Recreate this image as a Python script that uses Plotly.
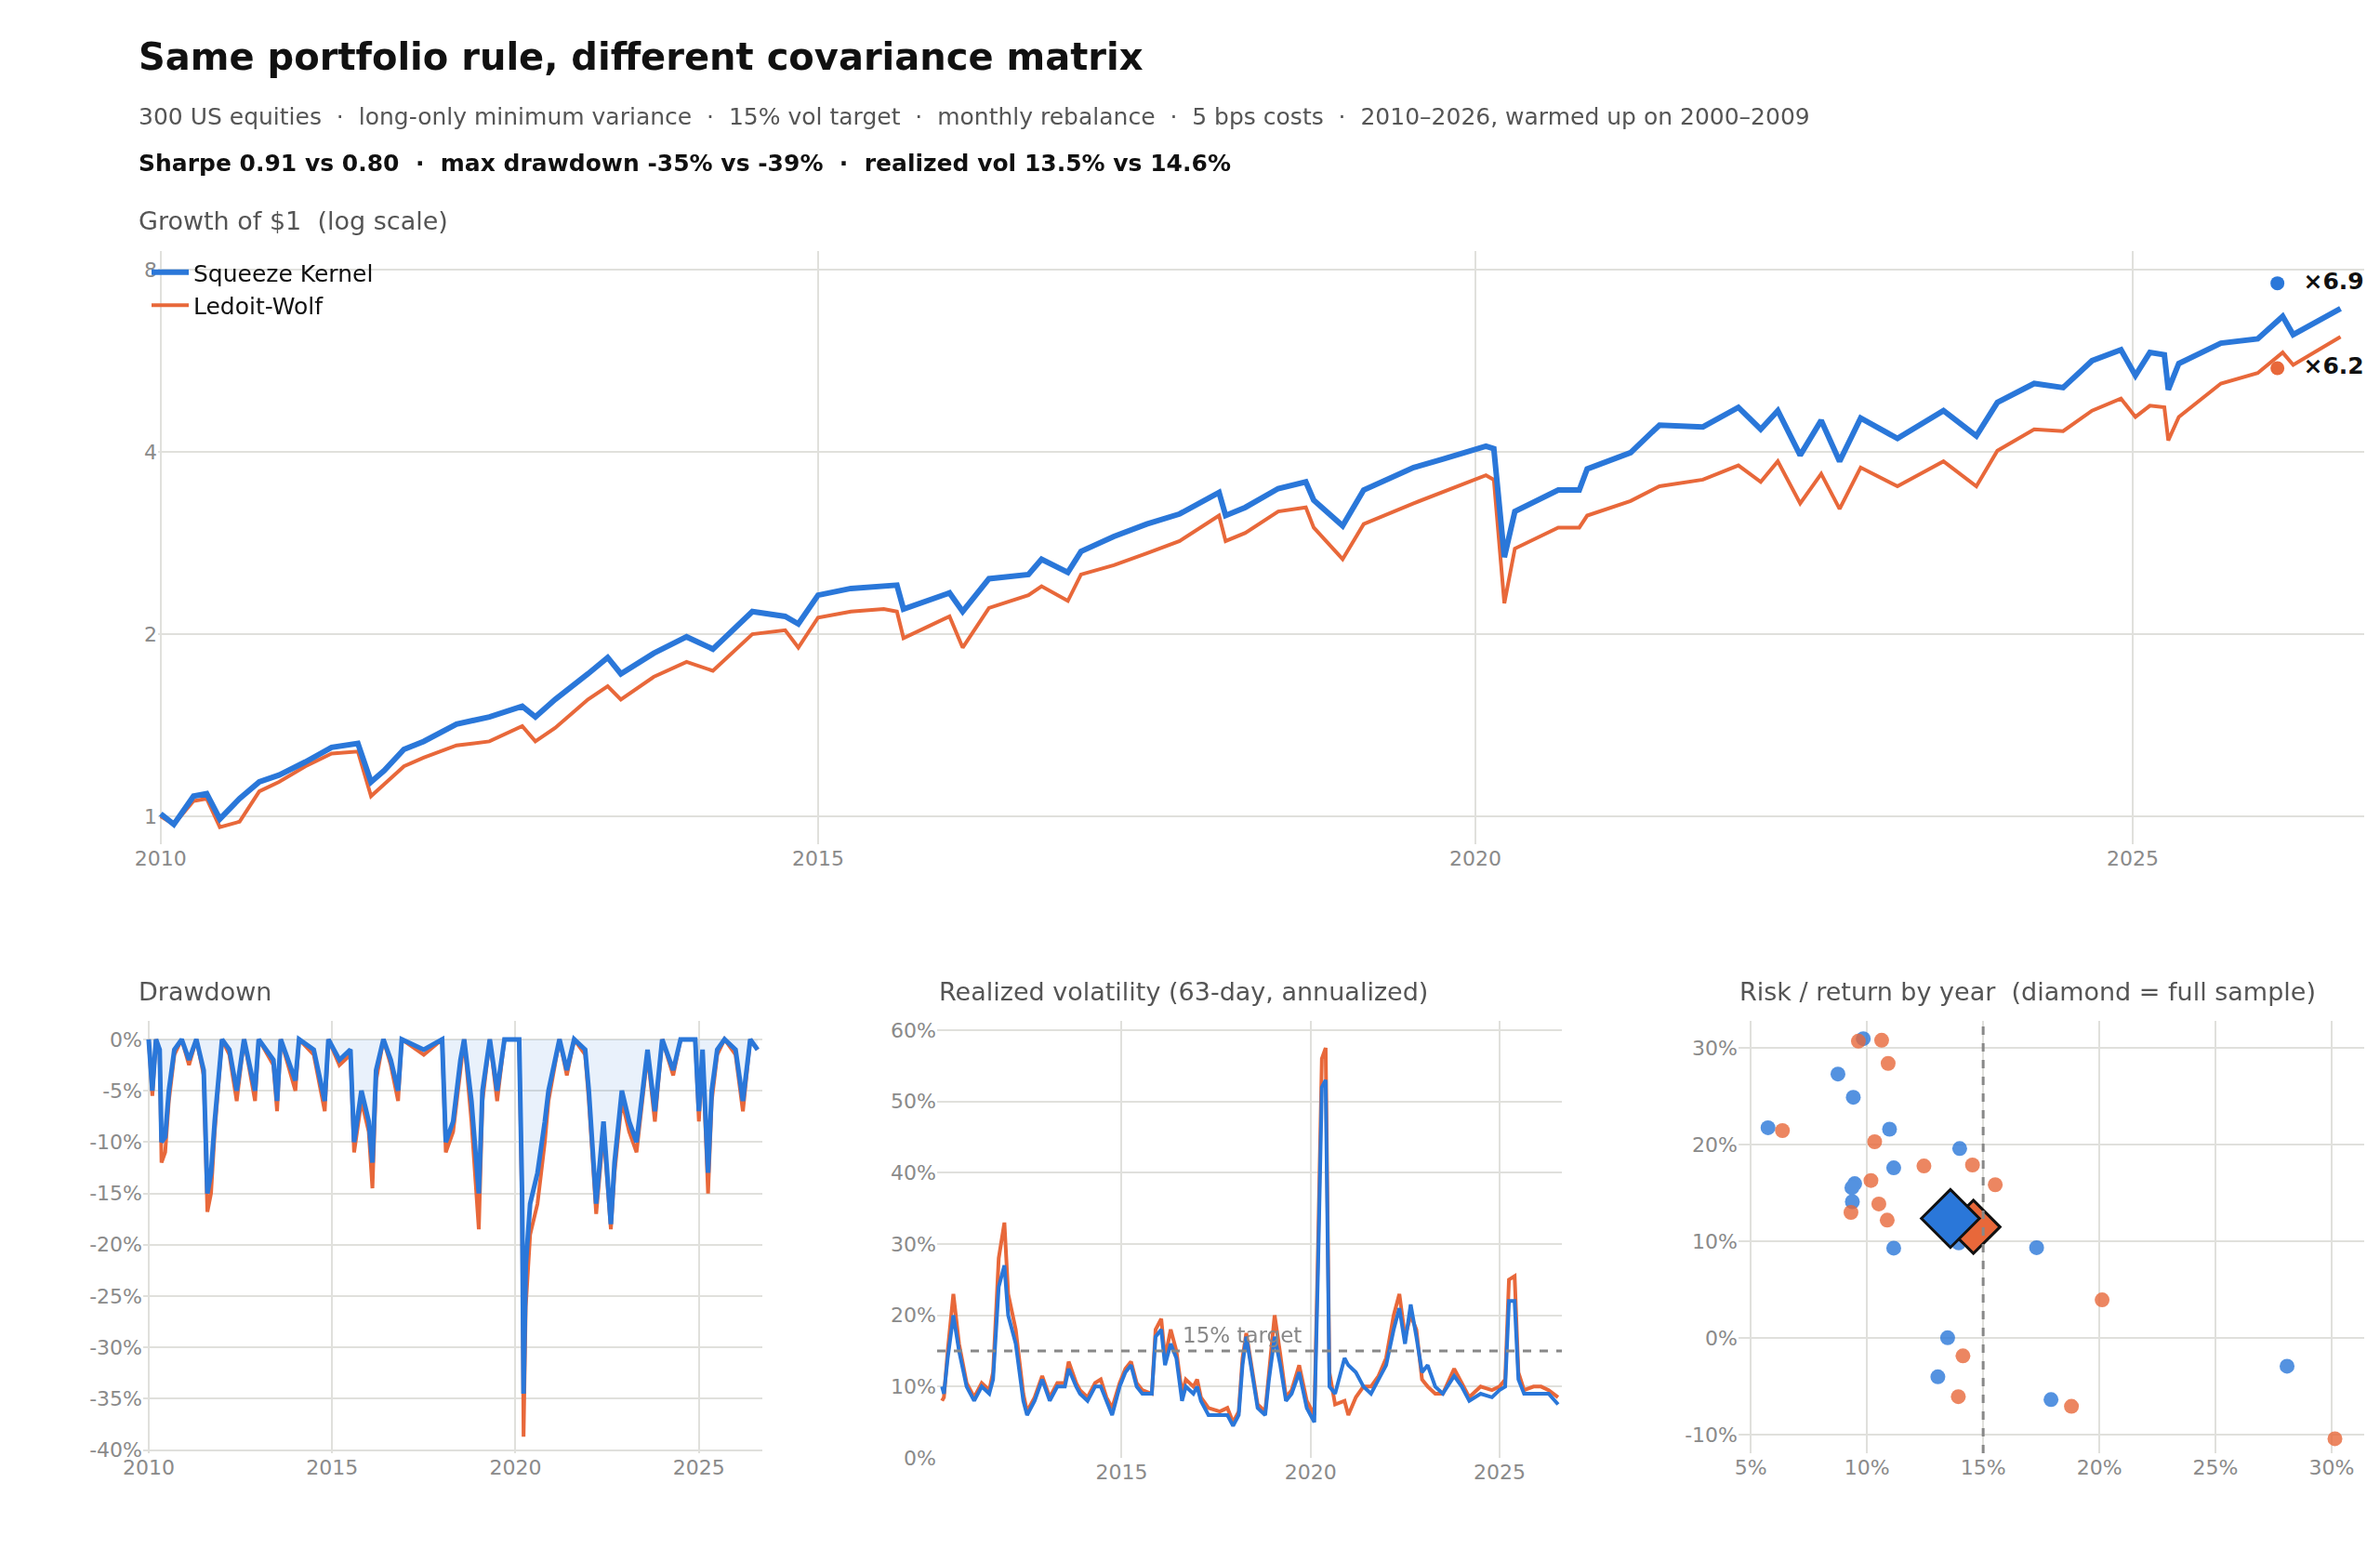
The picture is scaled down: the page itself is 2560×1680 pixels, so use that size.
import plotly.graph_objects as go

BLUE = "#2a77d9"
ORANGE = "#e8683a"
GRID = "#e0e0dc"
TICK = "#8a8a8a"
FONT = "DejaVu Sans"

# ---- Growth of $1 ----
G_T = [2010.0,2010.1,2010.25,2010.35,2010.45,2010.6,2010.75,2010.9,2011.1,2011.3,
       2011.5,2011.6,2011.7,2011.85,2012.0,2012.25,2012.5,2012.75,2012.85,2013.0,
       2013.25,2013.4,2013.5,2013.75,2014.0,2014.2,2014.5,2014.75,2014.85,2015.0,
       2015.25,2015.5,2015.6,2015.65,2016.0,2016.1,2016.3,2016.6,2016.7,2016.9,
       2017.0,2017.25,2017.5,2017.75,2018.05,2018.1,2018.25,2018.5,2018.71,2018.77,
       2018.99,2019.15,2019.53,2019.75,2020.08,2020.14,2020.22,2020.3,2020.63,2020.79,
       2020.85,2021.18,2021.4,2021.73,2022.0,2022.17,2022.3,2022.47,2022.63,2022.77,
       2022.93,2023.21,2023.56,2023.81,2023.97,2024.25,2024.47,2024.69,2024.91,2025.02,
       2025.13,2025.24,2025.27,2025.35,2025.67,2025.95,2026.14,2026.22,2026.58]
G_SK = [1.01,0.97,1.08,1.09,0.99,1.07,1.14,1.17,1.23,1.30,
        1.32,1.14,1.19,1.29,1.33,1.42,1.46,1.52,1.46,1.56,
        1.72,1.83,1.72,1.86,1.98,1.89,2.18,2.14,2.08,2.32,
        2.38,2.40,2.41,2.20,2.34,2.18,2.47,2.51,2.66,2.53,
        2.74,2.90,3.04,3.16,3.43,3.14,3.24,3.48,3.57,3.33,
        3.02,3.46,3.77,3.89,4.09,4.05,2.68,3.19,3.46,3.46,
        3.75,3.99,4.43,4.40,4.74,4.36,4.68,3.95,4.51,3.86,
        4.55,4.21,4.68,4.25,4.83,5.19,5.11,5.66,5.90,5.35,
        5.84,5.79,5.07,5.60,6.05,6.15,6.70,6.25,6.90]
G_LW = [1.0,0.97,1.06,1.07,0.96,0.98,1.10,1.14,1.21,1.27,
        1.28,1.08,1.13,1.21,1.25,1.31,1.33,1.41,1.33,1.40,
        1.56,1.64,1.56,1.70,1.80,1.74,2.0,2.03,1.90,2.13,
        2.18,2.20,2.18,1.97,2.14,1.90,2.21,2.32,2.40,2.27,
        2.51,2.60,2.72,2.85,3.14,2.85,2.94,3.19,3.24,3.0,
        2.66,3.04,3.29,3.43,3.66,3.60,2.25,2.77,3.0,3.0,
        3.14,3.32,3.51,3.60,3.80,3.57,3.86,3.29,3.68,3.22,
        3.77,3.51,3.86,3.51,4.02,4.36,4.33,4.68,4.90,4.57,
        4.77,4.74,4.18,4.57,5.19,5.40,5.84,5.57,6.2]
END_LABELS = ["×6.9", "×6.2"]
END_X = [2026.1, 2026.1]
END_Y = [7.6, 5.5]

# ---- Drawdown (%) ----
DD_T = [2010.0,2010.1,2010.2,2010.3,2010.35,2010.45,2010.55,2010.7,2010.9,2011.1,
        2011.3,2011.5,2011.6,2011.7,2011.8,2012.0,2012.2,2012.4,2012.6,2012.9,
        2013.0,2013.4,2013.5,2013.6,2014.0,2014.1,2014.5,2014.8,2014.9,2015.2,
        2015.5,2015.6,2015.8,2016.0,2016.1,2016.2,2016.4,2016.6,2016.8,2016.9,
        2017.5,2018.0,2018.1,2018.3,2018.5,2018.6,2018.8,2019.0,2019.1,2019.3,
        2019.5,2019.7,2020.1,2020.18,2020.22,2020.28,2020.4,2020.6,2020.8,2020.9,
        2021.2,2021.4,2021.6,2021.9,2022.0,2022.2,2022.4,2022.6,2022.7,2022.9,
        2023.1,2023.3,2023.6,2023.8,2024.0,2024.3,2024.5,2024.9,2025.0,2025.1,
        2025.25,2025.35,2025.5,2025.7,2026.0,2026.2,2026.4,2026.6]
DD_SK = [0,-5,0,-1,-10,-9.5,-5,-1,0,-2,
         0,-3,-15,-13,-8,0,-1,-5,0,-5,
         0,-2,-6,0,-4,0,-1,-6,0,-2,
         -1,-10,-5,-8,-12,-3,0,-2,-5,0,
         -1,0,-10,-8,-2,0,-6,-15,-5,0,
         -5,0,0,-15,-34.5,-22,-16,-13,-8,-5,
         0,-3,0,-1,-5,-16,-8,-18,-12,-5,
         -8,-10,-1,-7,0,-3,0,0,-7,-1,
         -13,-5,-1,0,-1,-6,0,-1]
DD_LW = [0,-5.5,0,-1.5,-12,-11,-6,-1.5,0,-2.5,
         0,-3.5,-16.8,-15,-9,0,-1.5,-6,0,-6,
         0,-2.5,-7,0,-5,0,-1.5,-7,0,-2.5,
         -1.5,-11,-6,-9,-14.5,-4,0,-2.5,-6,0,
         -1.5,0,-11,-9,-3,0,-8,-18.5,-6,0,
         -6,0,0,-17,-38.7,-26,-19,-16,-10,-6,
         0,-3.5,0,-1.5,-6,-17,-9,-18.5,-13,-6,
         -9,-11,-1.5,-8,0,-3.5,0,0,-8,-1.5,
         -15,-6,-1.5,0,-1.5,-7,0,-1]

# ---- Realized vol (%) ----
VOL_T = [2010.25,2010.3,2010.4,2010.55,2010.7,2010.9,2011.1,2011.3,2011.5,2011.6,
         2011.75,2011.9,2012.0,2012.2,2012.4,2012.5,2012.7,2012.9,2013.1,2013.3,
         2013.5,2013.6,2013.8,2013.9,2014.1,2014.3,2014.45,2014.6,2014.75,2014.95,
         2015.1,2015.25,2015.4,2015.55,2015.8,2015.9,2016.05,2016.15,2016.3,2016.45,
         2016.6,2016.7,2016.9,2017.0,2017.1,2017.3,2017.6,2017.8,2017.95,2018.1,
         2018.2,2018.3,2018.45,2018.6,2018.8,2018.9,2019.05,2019.2,2019.35,2019.5,
         2019.7,2019.9,2020.0,2020.1,2020.2,2020.3,2020.4,2020.5,2020.65,2020.9,
         2021.0,2021.2,2021.4,2021.6,2021.8,2022.0,2022.2,2022.35,2022.5,2022.65,
         2022.8,2022.95,2023.1,2023.3,2023.5,2023.8,2024.0,2024.2,2024.5,2024.8,
         2025.0,2025.15,2025.25,2025.4,2025.5,2025.65,2025.9,2026.1,2026.3,2026.55]
VOL_SK = [10,9,14,20,15,10,8,10,9,11,
          24,27,20,16,8,6,8,11,8,10,
          10,12.5,10,9,8,10,10,8,6,10,
          12,13,10,9,9,17,18,13,16,14,
          8,10,9,10,8,6,6,6,4.5,6,
          13,17,12,7,6,11,17,13,8,9,
          12,7,6,5,27,52,53,10,9,14,
          13,12,10,9,11,13,18,21,16,21.5,
          17,12,13,10,9,11.5,10,8,9,8.5,
          9.5,10,22,22,11,9,9,9,9,7.5]
VOL_LW = [8,8.5,15,23,16,10.5,8.5,10.5,9.5,12,
          28,33,23,18,9,6.5,8.5,11.5,8.5,10.5,
          10.5,13.5,10.5,9.5,8.5,10.5,11,8.5,7,10.5,
          12.5,13.5,10.5,9.5,9,18,19.5,14,18,15,
          9,11,10,11,8.5,7,6.5,7,5,6.5,
          14,17.5,12.5,7.5,6.5,12,20,14.5,8.5,9.5,
          13,8,7,6,30,56,57.5,12,7.5,8,
          6,8.5,10,10,11.5,14,20,23,17,20,
          18,11,10,9,9,12.5,10.5,8.5,10,9.5,
          10,11,25,25.5,12,9.5,10,10,9.5,8.5]
VOL_TARGET = 15

# ---- Risk / return by year (%) ----
RR_SK_VOL = [9.84,8.75,9.41,5.74,10.97,13.99,11.15,9.47,9.35,9.37,13.95,11.15,17.3,13.47,13.05,17.92,28.08]
RR_SK_RET = [30.96,27.3,24.9,21.75,21.6,19.6,17.6,15.97,15.55,14.1,9.85,9.3,9.35,0.04,-4.0,-6.36,-2.9]
RR_LW_VOL = [9.63,10.63,10.91,6.36,10.33,12.45,14.54,15.52,10.17,10.51,9.31,10.87,20.12,14.13,13.93,18.8,30.14]
RR_LW_RET = [30.7,30.8,28.4,21.46,20.3,17.8,17.9,15.86,16.3,13.87,13.0,12.2,3.95,-1.84,-6.05,-7.05,-10.4]
FULL_VOL = [13.59, 14.58]
FULL_RET = [12.37, 11.5]

DD_TICKS = list(range(-40, 1, 5))
VOL_TICKS = list(range(0, 61, 10))
RR_XTICKS = [5, 10, 15, 20, 25, 30]
RR_YTICKS = [-10, 0, 10, 20, 30]
pct = lambda vals: [f"{v}%" for v in vals]

W, H = 2560, 1680
fig = go.Figure()

fig.add_trace(go.Scatter(x=G_T, y=G_LW, mode="lines", name="Ledoit-Wolf",
                         line=dict(color=ORANGE, width=4), xaxis="x", yaxis="y"))
fig.add_trace(go.Scatter(x=G_T, y=G_SK, mode="lines", name="Squeeze Kernel",
                         line=dict(color=BLUE, width=6), xaxis="x", yaxis="y"))
fig.add_trace(go.Scatter(x=END_X, y=END_Y, mode="markers+text", text=["  " + s for s in END_LABELS],
                         textposition="middle right", cliponaxis=False,
                         textfont=dict(size=25, color="#111", family=FONT, weight="bold"),
                         marker=dict(color=[BLUE, ORANGE], size=15), showlegend=False,
                         xaxis="x", yaxis="y"))
fig.add_trace(go.Scatter(x=DD_T, y=DD_LW, mode="lines", line=dict(color=ORANGE, width=4),
                         showlegend=False, xaxis="x2", yaxis="y2"))
fig.add_trace(go.Scatter(x=DD_T, y=DD_SK, mode="lines", line=dict(color=BLUE, width=5),
                         fill="tozeroy", fillcolor="rgba(42,119,217,0.10)",
                         showlegend=False, xaxis="x2", yaxis="y2"))
fig.add_trace(go.Scatter(x=VOL_T, y=VOL_LW, mode="lines", line=dict(color=ORANGE, width=4),
                         showlegend=False, xaxis="x3", yaxis="y3"))
fig.add_trace(go.Scatter(x=VOL_T, y=VOL_SK, mode="lines", line=dict(color=BLUE, width=4),
                         showlegend=False, xaxis="x3", yaxis="y3"))
fig.add_trace(go.Scatter(x=RR_SK_VOL, y=RR_SK_RET, mode="markers", opacity=0.8,
                         marker=dict(color=BLUE, size=16), showlegend=False, xaxis="x4", yaxis="y4"))
fig.add_trace(go.Scatter(x=RR_LW_VOL, y=RR_LW_RET, mode="markers", opacity=0.8,
                         marker=dict(color=ORANGE, size=16), showlegend=False, xaxis="x4", yaxis="y4"))
fig.add_trace(go.Scatter(x=FULL_VOL[1:], y=FULL_RET[1:], mode="markers",
                         marker=dict(color=ORANGE, size=44, symbol="diamond", line=dict(color="#111", width=3)),
                         showlegend=False, xaxis="x4", yaxis="y4"))
fig.add_trace(go.Scatter(x=FULL_VOL[:1], y=FULL_RET[:1], mode="markers",
                         marker=dict(color=BLUE, size=48, symbol="diamond", line=dict(color="#111", width=3)),
                         showlegend=False, xaxis="x4", yaxis="y4"))

tickfont = dict(family=FONT, size=22, color=TICK)
def ax(**kw):
    d = dict(showgrid=True, gridcolor=GRID, gridwidth=2, zeroline=False, showline=False,
             tickfont=tickfont, ticks="", automargin=False)
    d.update(kw)
    return d

yt = lambda y: 1 - y / H
xt = lambda x: x / W

fig.update_layout(
    width=W, height=H, paper_bgcolor="white", plot_bgcolor="white",
    margin=dict(l=0, r=0, t=0, b=0, autoexpand=False),
    font=dict(family=FONT),
    xaxis=ax(domain=[xt(162), xt(2535)], range=[2009.98, 2026.76], tickvals=[2010, 2015, 2020, 2025],
             anchor="y"),
    yaxis=ax(domain=[yt(900), yt(262)], type="log", range=[-0.046, 0.934], tickvals=[1, 2, 4, 8],
             anchor="x"),
    xaxis2=ax(domain=[xt(146), xt(812)], range=[2009.85, 2026.73], tickvals=[2010, 2015, 2020, 2025],
              anchor="y2"),
    yaxis2=ax(domain=[yt(1555), yt(1090)], range=[-40.3, 1.8], tickvals=DD_TICKS, ticktext=pct(DD_TICKS),
              anchor="x2"),
    xaxis3=ax(domain=[xt(1000), xt(1672)], range=[2010.12, 2026.65], tickvals=[2015, 2020, 2025],
              anchor="y3"),
    yaxis3=ax(domain=[yt(1560), yt(1090)], range=[0, 61.3], tickvals=VOL_TICKS, ticktext=pct(VOL_TICKS),
              anchor="x3"),
    xaxis4=ax(domain=[xt(1862), xt(2535)], range=[4.47, 31.4], tickvals=RR_XTICKS, ticktext=pct(RR_XTICKS),
              anchor="y4"),
    yaxis4=ax(domain=[yt(1555), yt(1090)], range=[-11.9, 32.8], tickvals=RR_YTICKS, ticktext=pct(RR_YTICKS),
              anchor="x4"),
    legend=dict(x=xt(150), y=yt(262), xanchor="left", yanchor="top", bgcolor="rgba(0,0,0,0)",
                font=dict(family=FONT, size=25, color="#111"), traceorder="reversed",
                itemwidth=40, tracegroupgap=4),
    shapes=[
        dict(type="line", xref="x3 domain", yref="y3", x0=0, x1=1, y0=VOL_TARGET, y1=VOL_TARGET,
             line=dict(color="#888", width=3, dash="dash")),
        dict(type="line", xref="x4", yref="y4 domain", x0=VOL_TARGET, x1=VOL_TARGET, y0=0, y1=1,
             line=dict(color="#888", width=3, dash="dash")),
    ],
)

def txt(x, y, s, size, color, bold=False):
    fig.add_annotation(x=xt(x), y=yt(y), xref="paper", yref="paper", text=s, showarrow=False,
                       xanchor="left", yanchor="middle",
                       font=dict(family=FONT, size=size, color=color, weight="bold" if bold else "normal"))

txt(139, 53, "Same portfolio rule, different covariance matrix", 40, "#111", True)
txt(139, 118, "300 US equities  ·  long-only minimum variance  ·  15% vol target  ·  monthly rebalance  ·  5 bps costs  ·  2010–2026, warmed up on 2000–2009", 25, "#555")
txt(139, 168, "Sharpe 0.91 vs 0.80  ·  max drawdown -35% vs -39%  ·  realized vol 13.5% vs 14.6%", 25, "#111", True)
txt(139, 230, "Growth of $1  (log scale)", 27, "#555")
txt(139, 1058, "Drawdown", 27, "#555")
txt(1000, 1058, "Realized volatility (63-day, annualized)", 27, "#555")
txt(1861, 1058, "Risk / return by year  (diamond = full sample)", 27, "#555")
fig.add_annotation(x=2018.2, y=VOL_TARGET, xref="x3", yref="y3", text="15% target", showarrow=False,
                   yanchor="bottom", yshift=2, font=dict(family=FONT, size=23, color="#888"))

fig.write_html("out.html")
